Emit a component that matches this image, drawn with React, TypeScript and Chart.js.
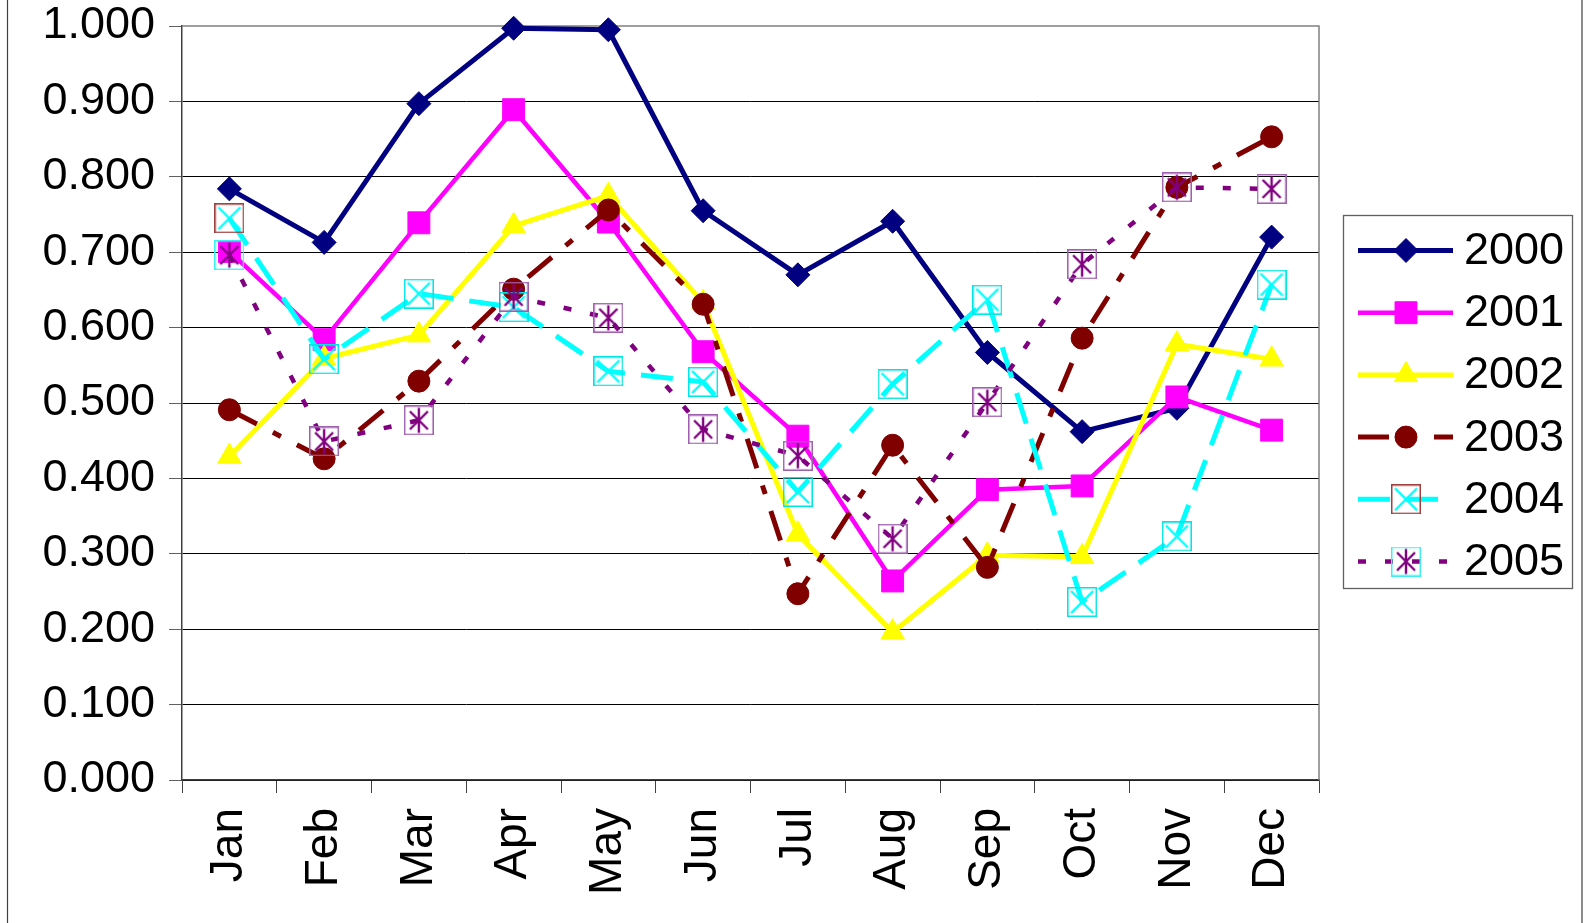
import React, { useEffect, useRef } from 'react';
import { Chart, registerables } from 'chart.js';

Chart.register(...registerables);

const months = ['Jan', 'Feb', 'Mar', 'Apr', 'May', 'Jun', 'Jul', 'Aug', 'Sep', 'Oct', 'Nov', 'Dec'];
const seriesLabels = ['2000', '2001', '2002', '2003', '2004', '2005'];
const series2000 = [0.784, 0.713, 0.897, 0.997, 0.995, 0.755, 0.670, 0.741, 0.567, 0.462, 0.493, 0.720];
const series2001 = [0.701, 0.584, 0.739, 0.889, 0.740, 0.568, 0.456, 0.264, 0.385, 0.390, 0.508, 0.464];
const series2002 = [0.429, 0.559, 0.590, 0.735, 0.775, 0.633, 0.326, 0.196, 0.298, 0.296, 0.578, 0.558];
const series2003 = [0.491, 0.426, 0.529, 0.651, 0.756, 0.631, 0.247, 0.444, 0.282, 0.586, 0.786, 0.853];
const series2004 = [0.745, 0.558, 0.645, 0.627, 0.542, 0.528, 0.382, 0.525, 0.637, 0.236, 0.323, 0.657];
const series2005 = [0.696, 0.449, 0.477, 0.641, 0.613, 0.465, 0.430, 0.320, 0.501, 0.684, 0.786, 0.784];
const yMin = 0;
const yMax = 1;
const yStep = 0.1;
const yDecimals = 3;

const FONT = '"Liberation Sans", Arial, sans-serif';

function makeXBox(border: string, cross: string): HTMLCanvasElement {
  const c = document.createElement('canvas');
  c.width = 30; c.height = 30;
  const g = c.getContext('2d')!;
  g.strokeStyle = border; g.lineWidth = 1.5;
  g.strokeRect(0.75, 0.75, 28.5, 28.5);
  g.strokeStyle = cross; g.lineWidth = 2.4;
  g.beginPath();
  g.moveTo(4, 4); g.lineTo(26, 26);
  g.moveTo(26, 4); g.lineTo(4, 26);
  g.stroke();
  return c;
}

function makeStarBox(border: string, star: string): HTMLCanvasElement {
  const c = document.createElement('canvas');
  c.width = 30; c.height = 30;
  const g = c.getContext('2d')!;
  g.strokeStyle = border; g.lineWidth = 1.5;
  g.strokeRect(0.75, 0.75, 28.5, 28.5);
  g.strokeStyle = star; g.lineWidth = 2.4;
  g.beginPath();
  g.moveTo(15, 2.5); g.lineTo(15, 27.5);
  g.moveTo(6, 6); g.lineTo(24, 24);
  g.moveTo(24, 6); g.lineTo(6, 24);
  g.stroke();
  return c;
}

function drawMarker(ctx: CanvasRenderingContext2D, style: any, x: number, y: number, r: number, color: string) {
  if (style && typeof style === 'object') {
    ctx.drawImage(style, x - style.width / 2, y - style.height / 2);
    return;
  }
  ctx.beginPath();
  if (style === 'rectRot') {
    ctx.moveTo(x - r, y); ctx.lineTo(x, y - r); ctx.lineTo(x + r, y); ctx.lineTo(x, y + r); ctx.closePath();
  } else if (style === 'rect') {
    const s = Math.SQRT1_2 * r;
    ctx.rect(x - s, y - s, 2 * s, 2 * s);
  } else if (style === 'triangle') {
    const a = (2 * Math.PI) / 3;
    for (let i = 0; i < 3; i++) {
      const ang = i * a;
      const px = x + Math.sin(ang) * r;
      const py = y - Math.cos(ang) * r;
      if (i === 0) ctx.moveTo(px, py); else ctx.lineTo(px, py);
    }
    ctx.closePath();
  } else {
    ctx.arc(x, y, r, 0, Math.PI * 2);
  }
  ctx.fillStyle = color;
  ctx.strokeStyle = color;
  ctx.lineWidth = 1;
  ctx.fill();
  ctx.stroke();
}

const bordersPlugin = {
  id: 'plotBorders',
  beforeDatasetsDraw(chart: any) {
    const { ctx, chartArea: a } = chart;
    ctx.save();
    ctx.strokeStyle = '#808080';
    ctx.lineWidth = 1.5;
    ctx.beginPath();
    ctx.moveTo(a.left, a.top);
    ctx.lineTo(a.right, a.top);
    ctx.lineTo(a.right, a.bottom);
    ctx.stroke();
    ctx.restore();
  },
  afterDraw(chart: any) {
    const { ctx } = chart;
    ctx.save();
    ctx.strokeStyle = '#404040';
    ctx.lineWidth = 1.2;
    ctx.beginPath();
    ctx.moveTo(7.5, 0); ctx.lineTo(7.5, 923);
    ctx.moveTo(1582, 0); ctx.lineTo(1582, 923);
    ctx.stroke();

    const boxL = 1343.5, boxT = 215.5, boxW = 229, boxH = 373;
    ctx.strokeStyle = '#606060';
    ctx.lineWidth = 1.3;
    ctx.strokeRect(boxL, boxT, boxW, boxH);
    const rowY0 = 250.5;
    const rowGap = 62.2;
    const lineX0 = 1358, lineX1 = 1453, markX = 1406, textX = 1464;
    chart.data.datasets.forEach((ds: any, i: number) => {
      const y = rowY0 + i * rowGap;
      ctx.save();
      ctx.strokeStyle = ds.borderColor;
      ctx.lineWidth = ds.borderWidth;
      ctx.setLineDash(ds.borderDash || []);
      ctx.lineCap = 'butt';
      ctx.beginPath();
      ctx.moveTo(lineX0, y);
      ctx.lineTo(lineX1, y);
      ctx.stroke();
      ctx.setLineDash([]);
      drawMarker(ctx, ds.legendStyle, markX, y, ds.legendRadius, ds.pointBackgroundColor);
      ctx.restore();
      ctx.fillStyle = '#000';
      ctx.font = `45px ${FONT}`;
      ctx.textBaseline = 'middle';
      ctx.textAlign = 'left';
      ctx.fillText(ds.label, textX, y + 1);
    });
    ctx.restore();
  },
};

export default function App() {
  const ref = useRef<HTMLCanvasElement | null>(null);

  useEffect(() => {
    document.body.style.margin = '0';
    const canvas = ref.current!;
    const xBoxCyan = makeXBox('#00e5e5', '#00ffff');
    const xBoxRed = makeXBox('#a04040', '#00ffff');
    const starBoxPurple = makeStarBox('#a060b0', '#800080');
    const starBoxCyan = makeStarBox('#40f0f0', '#800080');

    const base = {
      fill: false,
      tension: 0,
      clip: false as any,
      borderJoinStyle: 'round' as const,
      borderCapStyle: 'butt' as const,
      pointBorderWidth: 1,
    };

    const datasets: any[] = [
      {
        ...base, label: seriesLabels[0], data: series2000, borderColor: '#000080', backgroundColor: '#000080',
        pointBackgroundColor: '#000080', pointBorderColor: '#000080', borderWidth: 5,
        pointStyle: 'rectRot', pointRadius: 12, legendStyle: 'rectRot', legendRadius: 12, order: 5,
      },
      {
        ...base, label: seriesLabels[1], data: series2001, borderColor: '#ff00ff', backgroundColor: '#ff00ff',
        pointBackgroundColor: '#ff00ff', pointBorderColor: '#ff00ff', borderWidth: 4.5,
        pointStyle: 'rect', pointRadius: 15.5, legendStyle: 'rect', legendRadius: 15.5, order: 4,
      },
      {
        ...base, label: seriesLabels[2], data: series2002, borderColor: '#ffff00', backgroundColor: '#ffff00',
        pointBackgroundColor: '#ffff00', pointBorderColor: '#ffff00', borderWidth: 5,
        pointStyle: 'triangle', pointRadius: 13.5, legendStyle: 'triangle', legendRadius: 13.5, order: 3,
      },
      {
        ...base, label: seriesLabels[3], data: series2003, borderColor: '#800000', backgroundColor: '#800000',
        pointBackgroundColor: '#800000', pointBorderColor: '#800000', borderWidth: 5, borderDash: [31, 18, 9, 18],
        pointStyle: 'circle', pointRadius: 11, legendStyle: 'circle', legendRadius: 11, order: 2,
      },
      {
        ...base, label: seriesLabels[4], data: series2004, borderColor: '#00ffff', backgroundColor: '#00ffff',
        pointBackgroundColor: '#00ffff', pointBorderColor: '#00ffff', borderWidth: 5, borderDash: [32, 16],
        pointStyle: months.map((_, i) => (i === 0 ? xBoxRed : xBoxCyan)), pointRadius: 15,
        legendStyle: xBoxRed, legendRadius: 15, order: 1,
      },
      {
        ...base, label: seriesLabels[5], data: series2005, borderColor: '#800080', backgroundColor: '#800080',
        pointBackgroundColor: '#800080', pointBorderColor: '#800080', borderWidth: 4.5, borderDash: [8, 19],
        pointStyle: months.map((_, i) => (i === 0 ? starBoxCyan : starBoxPurple)), pointRadius: 15,
        legendStyle: starBoxCyan, legendRadius: 15, order: 0,
      },
    ];

    const chart = new Chart(canvas, {
      type: 'line',
      data: { labels: months, datasets },
      plugins: [bordersPlugin],
      options: {
        animation: false,
        responsive: false,
        events: [],
        devicePixelRatio: 1,
        layout: { padding: { left: 0, right: 264, top: 26, bottom: 0 } },
        plugins: {
          legend: { display: false },
          tooltip: { enabled: false },
          title: { display: false },
        },
        scales: {
          x: {
            type: 'category',
            offset: true,
            afterFit: (s: any) => {
              s.height = 143;
              s.paddingLeft = 0;
              s.paddingRight = 0;
            },
            grid: {
              offset: true,
              drawOnChartArea: false,
              drawTicks: true,
              tickLength: 13,
              tickColor: '#404040',
              tickWidth: 1,
            },
            border: { display: true, color: '#404040', width: 1.5 },
            ticks: {
              autoSkip: false,
              maxRotation: 90,
              minRotation: 90,
              padding: 15,
              color: '#000',
              font: { family: FONT, size: 46 },
            },
          },
          y: {
            min: yMin,
            max: yMax,
            afterFit: (s: any) => {
              s.width = 182;
              s.paddingTop = 0;
              s.paddingBottom = 0;
            },
            grid: {
              color: (c: any) => (c.tick && Math.abs(c.tick.value - yMax) < 1e-6 ? 'rgba(0,0,0,0)' : '#000000'),
              lineWidth: 1,
              drawTicks: true,
              tickLength: 13,
              tickColor: '#606060',
            },
            border: { display: true, color: '#404040', width: 1.5 },
            ticks: {
              stepSize: yStep,
              padding: 14,
              color: '#000',
              font: { family: FONT, size: 45 },
              callback: (v: any) => Number(v).toFixed(yDecimals),
            },
          },
        },
      } as any,
    });
    return () => chart.destroy();
  }, []);

  return (
    <div style={{ width: 1583, height: 923 }}>
      <canvas ref={ref} width={1583} height={923} style={{ display: 'block' }} />
    </div>
  );
}
